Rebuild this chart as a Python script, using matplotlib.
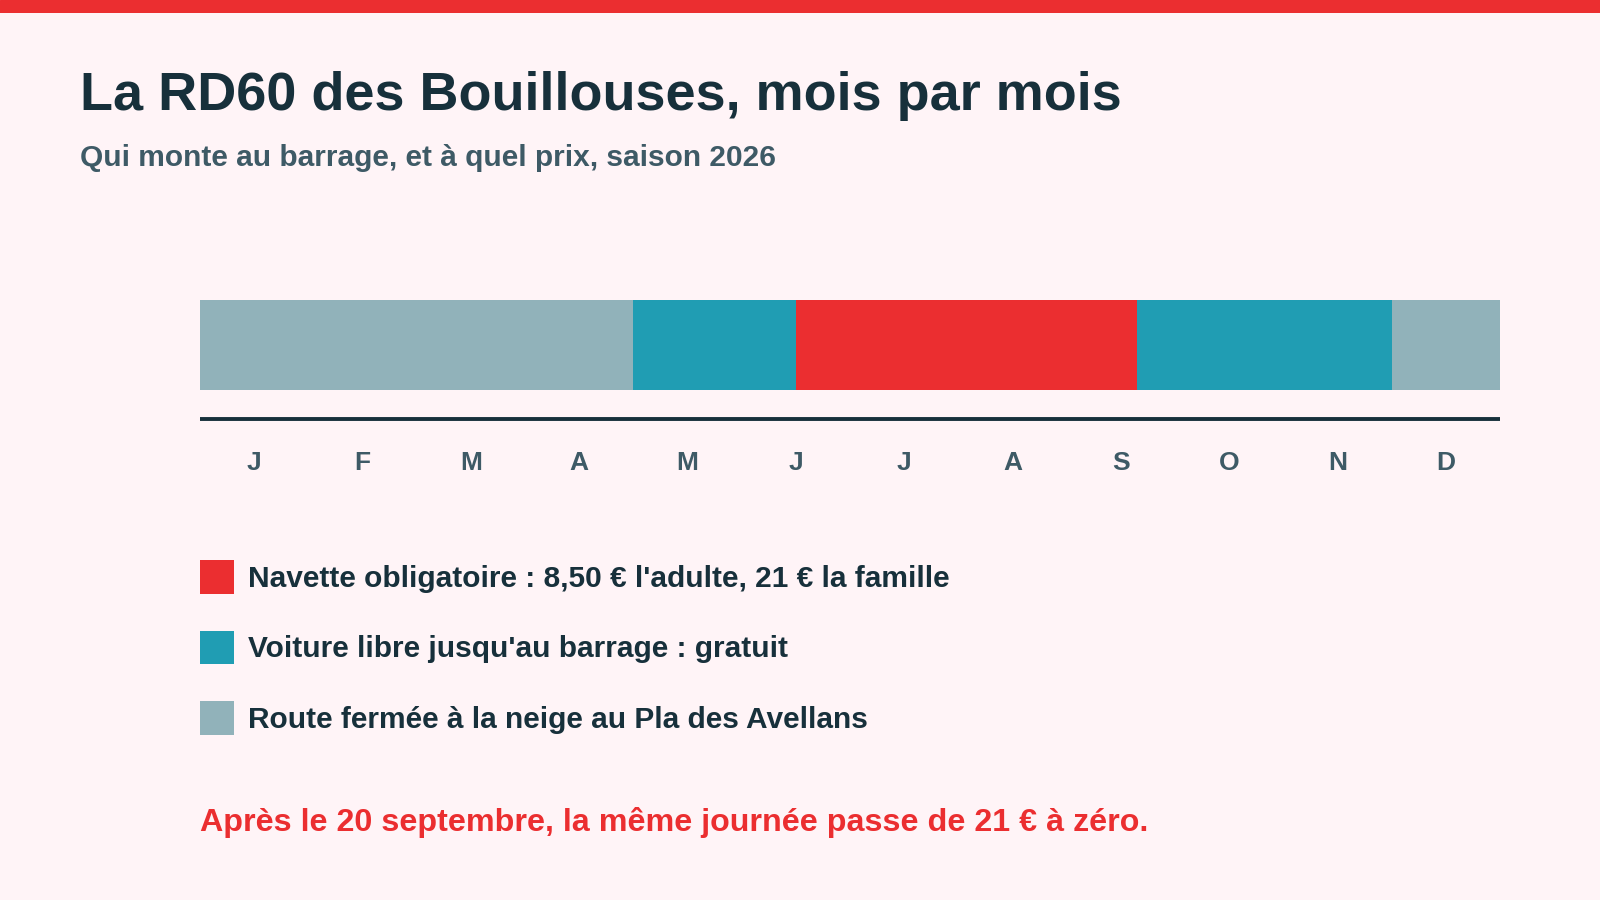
import numpy as np
import matplotlib
matplotlib.use("Agg")
import matplotlib.pyplot as plt
from matplotlib.patches import Patch

# ------------------------------------------------------------
# Data : état de la route, en mois (0 = 1er janvier)
# ------------------------------------------------------------
months = ["J", "F", "M", "A", "M", "J", "J", "A", "S", "O", "N", "D"]

seg_start = [0.0, 4.0, 5.5, 8.65, 11.0]
seg_end = [4.0, 5.5, 8.65, 11.0, 12.0]
seg_state = ["ferme", "libre", "navette", "libre", "ferme"]

state_keys = ["navette", "libre", "ferme"]
state_labels = [
    "Navette obligatoire : 8,50 € l'adulte, 21 € la famille",
    "Voiture libre jusqu'au barrage : gratuit",
    "Route fermée à la neige au Pla des Avellans",
]

# ------------------------------------------------------------
# Style
# ------------------------------------------------------------
BG = "#FFF4F7"
RED = "#EB2E30"
TEAL = "#209DB3"
GREY = "#91B2BA"
DARK = "#17303B"
MUTED = "#3E5A66"
colors = {"navette": RED, "libre": TEAL, "ferme": GREY}

plt.rcParams["font.family"] = ["Liberation Sans", "DejaVu Sans"]
plt.rcParams["font.weight"] = "bold"

W, H = 1568, 882  # reference pixel grid, used for placement fractions

fig = plt.figure(figsize=(16, 9), dpi=100, facecolor=BG)

# top red stripe
stripe = fig.add_axes([0, 1 - 13 / H, 1, 13 / H])
stripe.set_axis_off()
stripe.add_patch(plt.Rectangle((0, 0), 1, 1, color=RED, transform=stripe.transAxes))

fig.text(78 / W, 1 - 108 / H, "La RD60 des Bouillouses, mois par mois",
         fontsize=38.9, color=DARK, fontweight="bold", va="baseline")
fig.text(78 / W, 1 - 163 / H, "Qui monte au barrage, et à quel prix, saison 2026",
         fontsize=21.5, color=MUTED, fontweight="bold", va="baseline")

# ------------------------------------------------------------
# Bar
# ------------------------------------------------------------
ax = fig.add_axes([196 / W, 1 - 382 / H, (1470 - 196) / W, (382 - 294) / H])
ax.set_facecolor("none")
for side in ["top", "left", "right"]:
    ax.spines[side].set_visible(False)
ax.spines["bottom"].set_position(("outward", 21))
ax.spines["bottom"].set_linewidth(2.8)
ax.spines["bottom"].set_color(DARK)
ax.spines["bottom"].set_capstyle("butt")

for s, e, st in zip(seg_start, seg_end, seg_state):
    ax.barh(0, e - s, left=s, height=1, color=colors[st], linewidth=0)
ax.set_xlim(0, 12)
ax.set_ylim(-0.5, 0.5)
ax.set_yticks([])
ax.set_xticks(np.arange(12) + 0.5)
ax.set_xticklabels(months, fontsize=19, color=MUTED, fontweight="bold")
ax.tick_params(axis="x", length=0, pad=23)

# ------------------------------------------------------------
# Legend
# ------------------------------------------------------------
handles = [Patch(facecolor=colors[k], edgecolor="none") for k in state_keys]
leg = fig.legend(handles, state_labels, loc="upper left",
                 bbox_to_anchor=(196 / W, 1 - 549 / H), frameon=False,
                 prop={"size": 21.5, "weight": "bold"}, handlelength=1.125,
                 handleheight=1.355, handletextpad=0.48, labelspacing=1.23,
                 borderpad=0, borderaxespad=0)
for t in leg.get_texts():
    t.set_color(DARK)

fig.text(196 / W, 1 - 806.5 / H,
         "Après le 20 septembre, la même journée passe de 21 € à zéro.",
         fontsize=23.2, color=RED, fontweight="bold", va="center")

fig.savefig("out.png", dpi=100, facecolor=BG)
